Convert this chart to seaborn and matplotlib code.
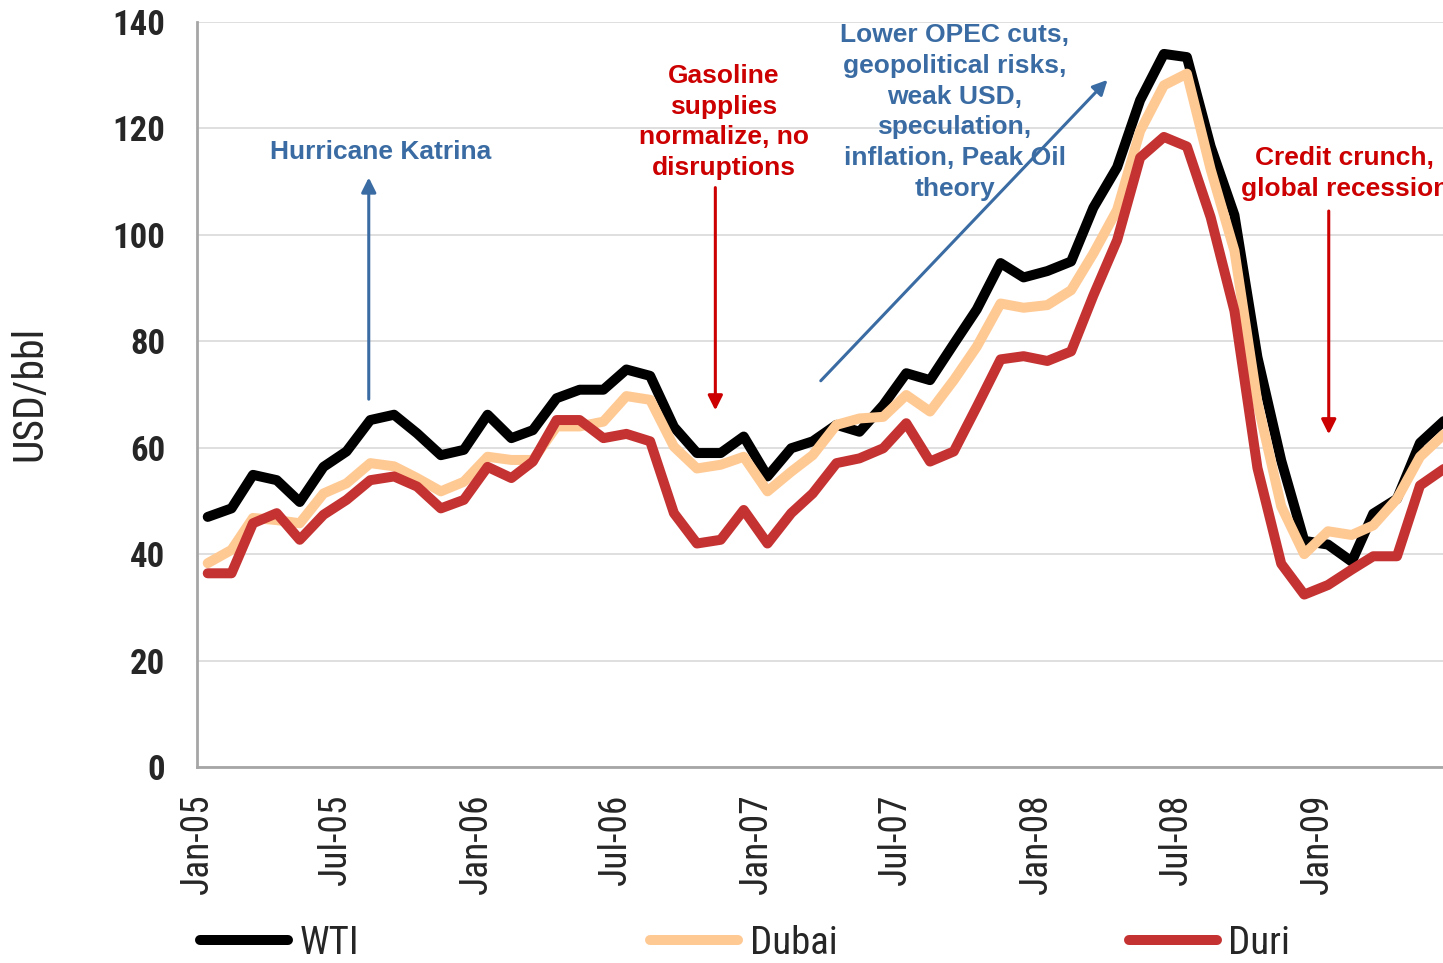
import pandas as pd
import numpy as np
import matplotlib
matplotlib.use('Agg')
import matplotlib.pyplot as plt
from matplotlib.lines import Line2D
import seaborn as sns

# monthly averages, Jan-05 .. Jun-09
months = pd.date_range('2005-01-01', periods=54, freq='MS') + pd.Timedelta(days=14)
wti = [47.0, 48.6, 54.9, 53.9, 49.8, 56.4, 59.3, 65.2, 66.2, 62.7, 58.6, 59.6,
       66.2, 61.8, 63.3, 69.3, 70.9, 70.9, 74.7, 73.5, 63.9, 59.0, 59.0, 62.1,
       54.6, 59.9, 61.2, 64.3, 63.0, 68.0, 74.0, 72.7, 79.5, 86.0, 94.7, 92.0,
       93.2, 95.0, 105.1, 112.7, 125.3, 134.0, 133.4, 116.6, 103.7, 77.0, 57.6, 42.5,
       41.8, 38.6, 47.6, 50.4, 60.9, 65.0]
dubai = [38.3, 40.8, 46.8, 46.4, 45.8, 51.4, 53.3, 57.1, 56.5, 54.3, 51.8, 53.6,
         58.3, 57.7, 57.7, 64.0, 64.0, 64.9, 69.7, 69.0, 60.2, 56.1, 56.8, 58.3,
         51.8, 55.5, 58.6, 64.3, 65.5, 65.8, 69.9, 66.8, 72.7, 79.0, 87.1, 86.3,
         86.8, 89.6, 96.5, 104.7, 119.5, 128.1, 130.3, 112.3, 97.0, 68.5, 49.0, 40.0,
         44.3, 43.6, 45.4, 50.4, 58.3, 62.5]
duri = [36.4, 36.4, 45.8, 47.7, 42.7, 47.4, 50.2, 53.9, 54.6, 52.7, 48.6, 50.2,
        56.4, 54.3, 57.4, 65.2, 65.2, 61.8, 62.6, 61.2, 47.7, 42.0, 42.7, 48.3,
        42.0, 47.7, 51.4, 57.1, 58.0, 59.9, 64.6, 57.4, 59.3, 67.7, 76.6, 77.2,
        76.3, 78.1, 88.6, 99.0, 114.5, 118.4, 116.6, 103.3, 85.7, 56.2, 38.2, 32.4,
        34.2, 37.1, 39.6, 39.6, 52.9, 56.0]
crudes = ['WTI', 'Dubai', 'Duri']
colors = ['#000000', '#FFC994', '#C53232']
tick_dates = pd.date_range('2005-01-01', '2009-01-01', freq='6MS')

df = pd.DataFrame({'month': months, 'WTI': wti, 'Dubai': dubai, 'Duri': duri})
long_df = df.melt(id_vars='month', var_name='crude', value_name='price')

sns.set_style('white')
plt.rcParams['font.family'] = ['Roboto Condensed', 'DejaVu Sans']
plt.rcParams['font.stretch'] = 'condensed'

fig = plt.figure(figsize=(14.43, 9.63), dpi=100)
ax = fig.add_axes([197 / 1443, 1 - 767 / 963, 1 - 197 / 1443, 745 / 963])

sns.lineplot(data=long_df, x='month', y='price', hue='crude', hue_order=crudes,
             palette=colors, linewidth=7.2, ax=ax, legend=False)

ax.set_xlim(pd.Timestamp('2005-01-01'), pd.Timestamp('2009-06-14'))
ax.set_ylim(0, 140)
ax.set_yticks(range(0, 141, 20))
ax.set_xticks(tick_dates)
ax.set_xticklabels([d.strftime('%b-%y') for d in tick_dates])
ax.yaxis.grid(True, color='#D9D9D9', linewidth=1.2)
ax.set_axisbelow(True)
for s in ['top', 'right']:
    ax.spines[s].set_visible(False)
for s in ['left', 'bottom']:
    ax.spines[s].set_color('#A6A6A6')
    ax.spines[s].set_linewidth(2)
ax.tick_params(axis='y', length=6, width=1.2, color='#A6A6A6', pad=17, labelsize=25)
ax.tick_params(axis='x', length=9, width=1.2, color='#A6A6A6', pad=10, labelsize=27,
               labelrotation=90)
for lab in ax.get_yticklabels():
    lab.set_fontweight('bold')
ax.set_xlabel('')
ax.set_ylabel('USD/bbl', fontsize=30)
ax.yaxis.set_label_coords(-0.118, 0.502)

# annotations
blue = '#3A6CA3'
red = '#CC0000'
afont = dict(family=['Liberation Sans', 'DejaVu Sans'], fontweight='bold', fontsize=19,
             fontstretch='normal', ha='center', va='center', linespacing=1.35)

ax.annotate('', xy=(pd.Timestamp('2005-08-13'), 111.3), xytext=(pd.Timestamp('2005-08-13'), 68.6),
            arrowprops=dict(arrowstyle='-|>', color=blue, lw=2.2, mutation_scale=22))
ax.text(pd.Timestamp('2005-08-28'), 115.6, 'Hurricane Katrina', color=blue, **afont)

ax.annotate('', xy=(pd.Timestamp('2006-11-08'), 66.5), xytext=(pd.Timestamp('2006-11-08'), 109.4),
            arrowprops=dict(arrowstyle='-|>', color=red, lw=2.2, mutation_scale=22))
ax.text(pd.Timestamp('2006-11-19'), 121.2, 'Gasoline\nsupplies\nnormalize, no\ndisruptions',
        color=red, **afont)

ax.annotate('', xy=(pd.Timestamp('2008-04-05'), 129.5), xytext=(pd.Timestamp('2007-03-23'), 72.2),
            arrowprops=dict(arrowstyle='-|>', color=blue, lw=2.2, mutation_scale=22))
ax.text(pd.Timestamp('2007-09-16'), 123.1,
        'Lower OPEC cuts,\ngeopolitical risks,\nweak USD,\nspeculation,\ninflation, Peak Oil\ntheory',
        color=blue, **afont)

ax.annotate('', xy=(pd.Timestamp('2009-01-16'), 62.0), xytext=(pd.Timestamp('2009-01-16'), 105.0),
            arrowprops=dict(arrowstyle='-|>', color=red, lw=2.2, mutation_scale=22))
ax.text(pd.Timestamp('2009-02-06'), 111.5, 'Credit crunch,\nglobal recession', color=red, **afont)

# legend along the bottom
handles = [Line2D([], [], color=c, linewidth=7.2, solid_capstyle='round') for c in colors]
fig.legend(handles, crudes, loc='center left', bbox_to_anchor=(200 / 1443, 1 - 943 / 963),
           ncol=3, frameon=False, fontsize=28, handlelength=2.25, columnspacing=7.5,
           handletextpad=0.3, borderpad=0, borderaxespad=0)

fig.savefig('out.png', dpi=100)
